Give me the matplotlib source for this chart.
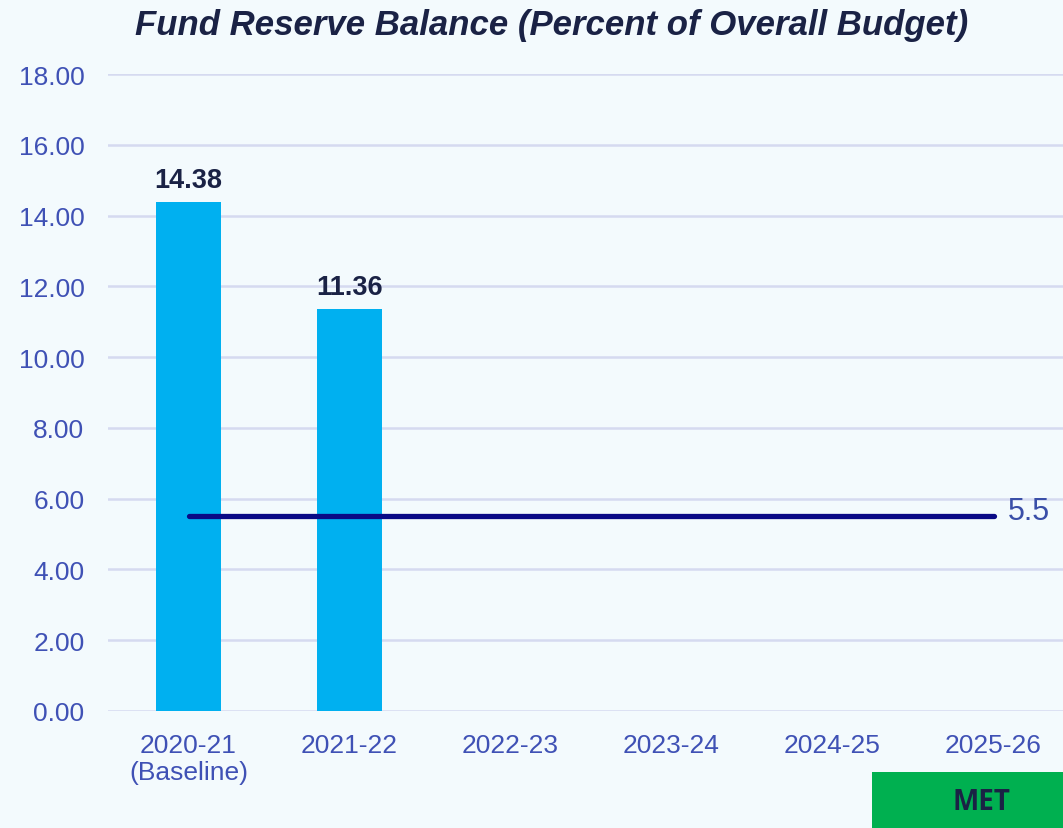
import matplotlib.pyplot as plt
import matplotlib.patches as mpatches

# Reserve balance as a percent of the overall budget, by fiscal year
years = ['2020-21\n(Baseline)', '2021-22', '2022-23', '2023-24', '2024-25', '2025-26']
balance = [14.38, 11.36]
target = 5.5
status = 'MET'

plt.rcParams['font.family'] = ['Liberation Sans', 'DejaVu Sans']

bg = '#F3FAFD'
tick_color = '#3F51B5'
dark = '#1A2245'

fig = plt.figure(figsize=(10.63, 8.29), dpi=100, facecolor=bg)
ax = fig.add_axes([108 / 1063, (829 - 712) / 829, (1063 - 108) / 1063, 637 / 829])
ax.set_facecolor(bg)

x = list(range(len(years)))
bars = ax.bar(x[:len(balance)], balance, width=0.4, color='#00B0F0', zorder=2)
for b, v in zip(bars, balance):
    ax.text(b.get_x() + b.get_width() / 2, v + 0.26, f'{v:.2f}', ha='center', va='bottom',
            fontsize=19.5, fontweight='bold', color=dark)

# Target line across every year
ax.plot([x[0], x[-1]], [target, target], color='#0A0A86', linewidth=3.8,
        solid_capstyle='round', zorder=3)
ax.text(x[-1] + 0.09, target + 0.15, f'{target}', ha='left', va='center', fontsize=22,
        color='#3A4FA8')

ax.set_ylim(0, 18)
ax.set_xlim(-0.5, (1063 - 108) / 161 - 0.5)
ax.set_yticks([i * 2 for i in range(10)])
ax.set_yticklabels([f'{i * 2:.2f}' for i in range(10)])
ax.set_xticks(x)
ax.set_xticklabels(years, linespacing=1.15)
ax.tick_params(axis='both', length=0, labelsize=19, labelcolor=tick_color)
ax.tick_params(axis='y', pad=17)
ax.tick_params(axis='x', pad=16)
ax.grid(axis='y', color='#D5DAF0', linewidth=1.8, zorder=0)
ax.set_axisbelow(True)
for s in ax.spines.values():
    s.set_visible(False)

fig.text(552 / 1063, 1 - 25 / 829, 'Fund Reserve Balance (Percent of Overall Budget)',
         ha='center', va='center', fontsize=25, fontweight='bold', style='italic', color=dark)

# Status badge in the lower right corner
fig.patches.append(mpatches.Rectangle((872 / 1063, 0), (1063 - 872) / 1063, 56 / 829,
                                      transform=fig.transFigure, facecolor='#00B050',
                                      edgecolor='none'))
fig.text(981 / 1063, 26 / 829, status, ha='center', va='center', fontsize=20,
         fontweight='bold', color=dark, family=['Open Sans', 'DejaVu Sans'])

fig.savefig('out.png', dpi=100, facecolor=bg)
